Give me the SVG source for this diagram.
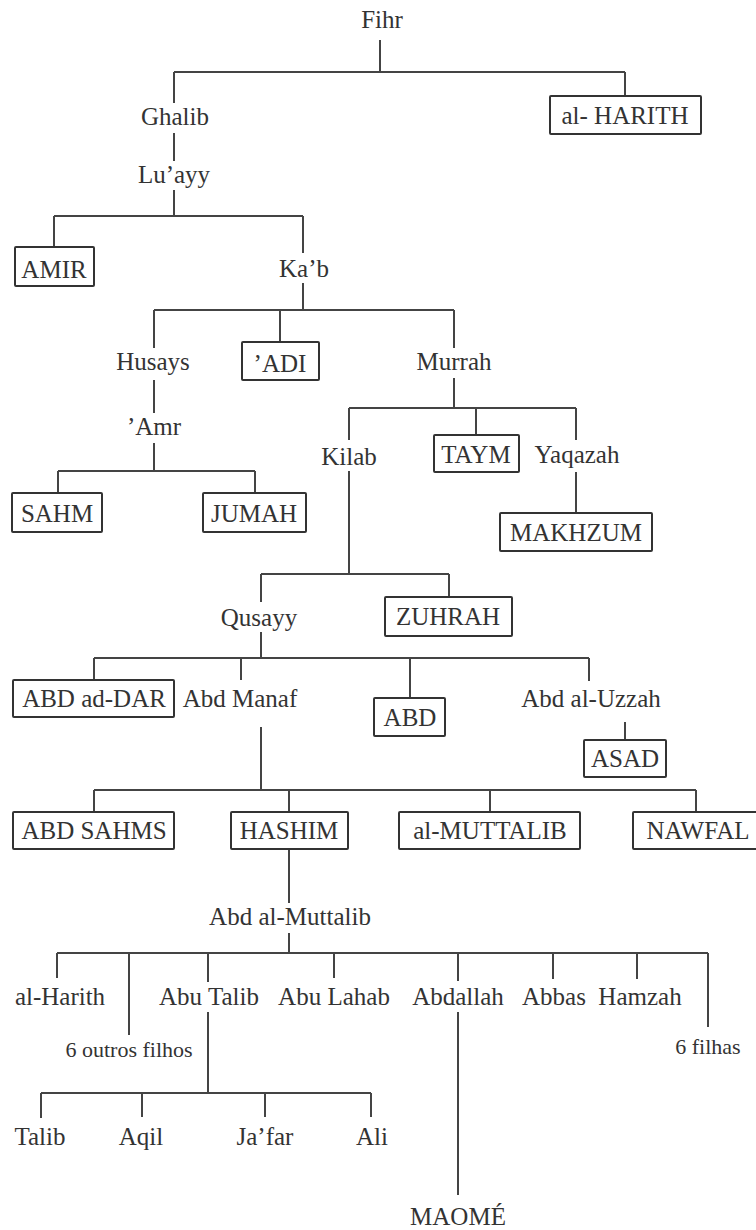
<svg xmlns="http://www.w3.org/2000/svg" width="756" height="1230" viewBox="0 0 756 1230">
<style>
text{font-size:25px;fill:#333;text-anchor:middle}
.s{font-size:22px}
.b{fill:#fff;stroke:#333;stroke-width:2}
#connectors path{fill:none;stroke:#444;stroke-width:2}
</style>
<rect width="756" height="1230" fill="#fff"/>
<g id="connectors">
<path d="M380 40V72M174 72H625M174 72V103M625 72V96M174 133V161M174 190V216M54 216H303M54 216V247M303 216V253M303 283V310"/>
<path d="M154 310H454M154 310V348M280 310V342M454 310V348M154 380V413M154 443V471M58 471H255M58 471V493M255 471V493"/>
<path d="M454 378V408M349 408H576M349 408V440M476 408V435M576 408V440M576 472V513M349 471V574M261 574H449M261 574V602M449 574V597"/>
<path d="M261 632V658M94 658H589M94 658V680M241 658V680M410 658V698M589 658V681M625 722V740M261 727V790M94 790H696M94 790V812M289 790V812M490 790V812M696 790V812"/>
<path d="M289 849V903M289 933V953M57 953H708M57 953V978M129 953V1035M208 953V982M334 953V978M458 953V981M553 953V979M637 953V979M708 953V1027"/>
<path d="M208 1012V1093M41 1093H371M41 1093V1118M142 1093V1117M265 1093V1117M371 1093V1117M458 1012V1195"/>
</g>
<g font-family="'Liberation Serif', 'DejaVu Serif', serif">
<g id="fihr"><text x="382" y="28">Fihr</text></g>
<g id="ghalib"><text x="175" y="125">Ghalib</text></g>
<g id="al-harith-box"><rect class="b" x="550" y="96" width="151" height="38" rx="1"/><text x="625" y="124">al- HARITH</text></g>
<g id="luayy"><text x="174" y="183">Lu’ayy</text></g>
<g id="amir"><rect class="b" x="15" y="247" width="79" height="39" rx="1"/><text x="54" y="278">AMIR</text></g>
<g id="kab"><text x="304" y="277">Ka’b</text></g>
<g id="husays"><text x="153" y="370">Husays</text></g>
<g id="adi"><rect class="b" x="242" y="342" width="77" height="38" rx="1"/><text x="280" y="372">’ADI</text></g>
<g id="murrah"><text x="454" y="370">Murrah</text></g>
<g id="amr"><text x="154" y="435">’Amr</text></g>
<g id="sahm"><rect class="b" x="12" y="493" width="90" height="39" rx="1"/><text x="57" y="522">SAHM</text></g>
<g id="jumah"><rect class="b" x="203" y="493" width="103" height="39" rx="1"/><text x="254" y="522">JUMAH</text></g>
<g id="kilab"><text x="349" y="465">Kilab</text></g>
<g id="taym"><rect class="b" x="434" y="435" width="85" height="37" rx="1"/><text x="476" y="463">TAYM</text></g>
<g id="yaqazah"><text x="577" y="463">Yaqazah</text></g>
<g id="makhzum"><rect class="b" x="500" y="513" width="152" height="38" rx="1"/><text x="576" y="541">MAKHZUM</text></g>
<g id="qusayy"><text x="259" y="626">Qusayy</text></g>
<g id="zuhrah"><rect class="b" x="385" y="597" width="127" height="39" rx="1"/><text x="448" y="625">ZUHRAH</text></g>
<g id="abd-ad-dar"><rect class="b" x="13" y="680" width="161" height="37" rx="1"/><text x="94" y="707">ABD ad-DAR</text></g>
<g id="abd-manaf"><text x="240" y="707">Abd Manaf</text></g>
<g id="abd"><rect class="b" x="374" y="698" width="71" height="38" rx="1"/><text x="410" y="726">ABD</text></g>
<g id="abd-al-uzzah"><text x="591" y="707">Abd al-Uzzah</text></g>
<g id="asad"><rect class="b" x="584" y="740" width="82" height="37" rx="1"/><text x="625" y="767">ASAD</text></g>
<g id="abd-sahms"><rect class="b" x="13" y="812" width="161" height="37" rx="1"/><text x="94" y="839">ABD SAHMS</text></g>
<g id="hashim"><rect class="b" x="231" y="812" width="117" height="37" rx="1"/><text x="289" y="839">HASHIM</text></g>
<g id="al-muttalib"><rect class="b" x="399" y="812" width="181" height="37" rx="1"/><text x="490" y="839">al-MUTTALIB</text></g>
<g id="nawfal"><rect class="b" x="633" y="812" width="126" height="37" rx="1"/><text x="698" y="839">NAWFAL</text></g>
<g id="abd-al-muttalib"><text x="290" y="925">Abd al-Muttalib</text></g>
<g id="al-harith"><text x="60" y="1005">al-Harith</text></g>
<g id="outros-filhos"><text class="s" x="129" y="1057">6 outros filhos</text></g>
<g id="abu-talib"><text x="209" y="1005">Abu Talib</text></g>
<g id="abu-lahab"><text x="334" y="1005">Abu Lahab</text></g>
<g id="abdallah"><text x="458" y="1005">Abdallah</text></g>
<g id="abbas"><text x="554" y="1005">Abbas</text></g>
<g id="hamzah"><text x="640" y="1005">Hamzah</text></g>
<g id="filhas"><text class="s" x="708" y="1054">6 filhas</text></g>
<g id="talib"><text x="40" y="1145">Talib</text></g>
<g id="aqil"><text x="141" y="1145">Aqil</text></g>
<g id="jafar"><text x="265" y="1145">Ja’far</text></g>
<g id="ali"><text x="372" y="1145">Ali</text></g>
<g id="maome"><text x="458" y="1225">MAOMÉ</text></g>
</g>
</svg>
